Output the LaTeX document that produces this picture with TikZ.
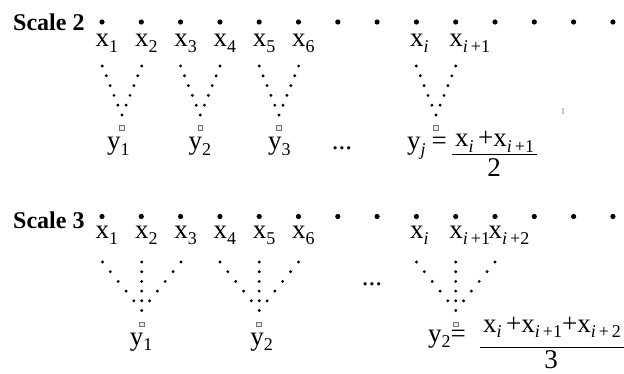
\documentclass[tikz,border=0pt]{standalone}
\usepackage{fontspec}
\setmainfont{Liberation Serif}
\newcommand\sbs[1]{\raisebox{-5.5pt}{\fontsize{18}{18}\selectfont #1}}
\newcommand\ii{\textit{i}}
\begin{document}
\begin{tikzpicture}[x=1pt,y=-1pt,
  lab/.style={inner sep=0pt, anchor=base west, font=\fontsize{27}{27}\selectfont},
  ctr/.style={inner sep=0pt, anchor=base, font=\fontsize{27}{27}\selectfont},
  ttl/.style={inner sep=0pt, anchor=base west, font=\fontsize{24}{24}\selectfont\bfseries},
  bigdot/.style={fill=black},
  smalldot/.style={fill=black},
  sq/.style={draw=black!55, fill=black!8, line width=0.7pt},
  bar/.style={line width=0.8pt}]
\useasboundingbox (0,0) rectangle (624,374);
\clip (0,0) rectangle (624,374);
\fill[white] (0,0) rectangle (624,374);

% ---------- Scale 2 ----------
\node[ttl] (t2) at (13,31) {Scale 2};
\foreach \k in {0,...,13} \fill[bigdot] (102+39.3*\k,22) circle (2.6pt);
\foreach \k in {1,...,6}
  \node[lab] (a\k) at (102+39.3*\k-39.3-6.5,47) {x\sbs{\k}};
\node[lab] (ai) at (416.4-6.5,47) {x\sbs{\ii}};
\node[lab] (ai1) at (455.7-6.5,47) {x\sbs{\ii\,+1}};

\foreach \c/\n in {122/1,200.3/2,278.9/3,436/j} {
  \foreach \r in {0,...,4} {
    \fill[smalldot] (\c-19.7+3.9*\r,66+9.8*\r) circle (1.6pt);
    \fill[smalldot] (\c+19.7-3.9*\r,66+9.8*\r) circle (1.6pt);
  }
  \fill[smalldot] (\c,115) circle (1.6pt);
  \draw[sq] (\c-2.4,125.6) rectangle (\c+2.4,130.4);
}
\node[lab] (b1) at (122-15,150) {y\sbs{1}};
\node[lab] (b2) at (200.3-12,150) {y\sbs{2}};
\node[lab] (b3) at (278.9-11,150) {y\sbs{3}};
\node[ctr] (e2) at (342,150) {...};
\node[lab] (bj) at (407,150) {y\sbs{\textit{j}}\kern6pt=};
\node[lab] (n2) at (455,147) {x\sbs{\ii}\,+x\sbs{\ii\,+1}};
\coordinate (f2l) at (452,154);
\coordinate (f2r) at (537,154);
\draw[bar] (f2l) -- (f2r);
\node[ctr] (d2) at (494,177) {2};
\node[inner sep=0pt, text=black!45, font=\fontsize{9}{9}\selectfont] (cur) at (563,112) {I};

% ---------- Scale 3 ----------
\node[ttl] (t3) at (13,229) {Scale 3};
\foreach \k in {0,...,13} \fill[bigdot] (102+39.3*\k,216.5) circle (2.6pt);
\foreach \k in {1,...,6}
  \node[lab] (c\k) at (102+39.3*\k-39.3-6.5,239) {x\sbs{\k}};
\node[lab] (ci) at (416.4-6.5,239) {x\sbs{\ii}};
\node[lab] (ci1) at (455.7-6.5,239) {x\sbs{\ii\,+1}};
\node[lab] (ci2) at (495-6.5,239) {x\sbs{\ii\,+2}};

\foreach \c in {141.7,259.2,455.7} {
  \foreach \r in {0,...,3} {
    \fill[smalldot] (\c-39.3+7.9*\r,262+9.7*\r) circle (1.6pt);
    \fill[smalldot] (\c,262+9.7*\r) circle (1.6pt);
    \fill[smalldot] (\c+39.3-7.9*\r,262+9.7*\r) circle (1.6pt);
  }
  \fill[smalldot] (\c-7.9,300.8) circle (1.6pt);
  \fill[smalldot] (\c,300.8) circle (1.6pt);
  \fill[smalldot] (\c+7.9,300.8) circle (1.6pt);
  \fill[smalldot] (\c,310.5) circle (1.6pt);
  \draw[sq] (\c-2.4,321.9) rectangle (\c+2.4,326.7);
}
\node[lab] (g1) at (141.7-12,345) {y\sbs{1}};
\node[lab] (g2) at (259.2-9,345) {y\sbs{2}};
\node[ctr] (e3) at (372,285) {...};
\node[lab] (gi) at (428,342) {y\sbs{2}=};
\node[lab] (n3) at (483,332) {x\sbs{\ii}\,+x\sbs{\ii\,+1}+x\sbs{\ii\,+\,2}};
\coordinate (f3l) at (480,347);
\coordinate (f3r) at (630,347);
\draw[bar] (f3l) -- (f3r);
\node[ctr] (d3) at (551,368) {3};
\end{tikzpicture}
\end{document}
